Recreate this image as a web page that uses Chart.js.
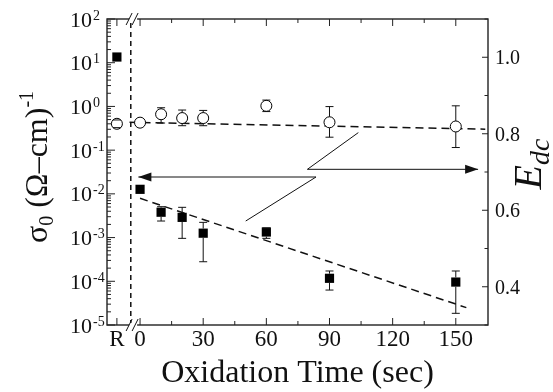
<!DOCTYPE html>
<html>
<head>
<meta charset="utf-8">
<script src="https://cdn.jsdelivr.net/npm/chart.js@4.4.0/dist/chart.umd.min.js"></script>
<style>
  html, body { margin: 0; padding: 0; background: #fff; }
</style>
</head>
<body>
<canvas id="chart" width="553" height="392"></canvas>
<script>
// ─── Data ──────────────────────────────────────────────────────────────────────
const R_POS = -11;   // the "R" (reference) sample sits left of the axis break

// conductivity sigma_0 (left, log axis) - filled squares
const sigmaTime  = [R_POS, 0, 10, 20, 30, 60, 90, 150];
const sigmaValue = [13.5, 0.0127, 0.0038, 0.0029, 0.00126, 0.00134, 1.17e-4, 9.6e-5];
const sigmaLow   = [null, null, 0.00239, 0.00096, 0.00028, 0.00096, 6.3e-5, 1.85e-5];
const sigmaHigh  = [null, null, 0.00508, 0.00492, 0.00223, 0.00166, 1.72e-4, 1.72e-4];

// E_dc (right axis) - open circles
const edcTime  = [R_POS, 0, 10, 20, 30, 60, 90, 150];
const edcValue = [0.826, 0.829, 0.851, 0.841, 0.841, 0.873, 0.830, 0.819];
const edcLow   = [0.816, null, 0.828, 0.821, 0.821, 0.858, 0.791, 0.764];
const edcHigh  = [0.836, null, 0.868, 0.862, 0.861, 0.888, 0.871, 0.873];

// dashed fits
const sigmaFitTime  = [0, 155];
const sigmaFitValue = [0.0079, 2.5e-5];
const edcFitTime    = [-5, 164];
const edcFitValue   = [0.830, 0.812];

// axis break
const breakTime = -4.4;

// arrows (polyline, tip is the last point)
const leftArrowTime   = [50.2, 83.6, -0.8];
const leftArrowSigma  = [0.00239, 0.0243, 0.0243];
const rightArrowTime  = [103.7, 79.5, 160.6];
const rightArrowEdc   = [0.803, 0.707, 0.707];

// ticks
const xTickValues   = [R_POS, 0, 30, 60, 90, 120, 150];
const xTickLabels   = ["R", "0", "30", "60", "90", "120", "150"];
const xMinorTicks   = [15, 45, 75, 105, 135];
const sigmaDecades  = [-5, -4, -3, -2, -1, 0, 1, 2];
const edcTickValues = [0.4, 0.6, 0.8, 1.0];
const edcTickLabels = ["0.4", "0.6", "0.8", "1.0"];
const edcMinorTicks = [0.3, 0.5, 0.7, 0.9, 1.1];

// ─── Helpers ───────────────────────────────────────────────────────────────────
const SERIF = '"Liberation Serif", "Times New Roman", serif';
const INK = "#111";
const pts = (xs, ys) => xs.map((x, i) => ({ x, y: ys[i] }));

function line(ctx, x1, y1, x2, y2) {
  ctx.beginPath(); ctx.moveTo(x1, y1); ctx.lineTo(x2, y2); ctx.stroke();
}

function errorBars(ctx, xs, ys, lows, highs, scaleX, scaleY, r) {
  ctx.save();
  ctx.strokeStyle = INK; ctx.lineWidth = 1;
  xs.forEach((t, i) => {
    if (lows[i] == null) return;
    const px = scaleX.getPixelForValue(t);
    const py = scaleY.getPixelForValue(ys[i]);
    const hi = scaleY.getPixelForValue(highs[i]);
    const lo = scaleY.getPixelForValue(lows[i]);
    if (hi < py - r) line(ctx, px, hi, px, py - r);
    if (lo > py + r) line(ctx, px, py + r, px, lo);
    line(ctx, px - 4, hi, px + 4, hi);
    line(ctx, px - 4, lo, px + 4, lo);
  });
  ctx.restore();
}

function arrowHead(ctx, x1, y1, x2, y2) {
  const a = Math.atan2(y2 - y1, x2 - x1), L = 13, W = 4.5;
  ctx.save();
  ctx.translate(x2, y2); ctx.rotate(a);
  ctx.fillStyle = INK;
  ctx.beginPath(); ctx.moveTo(0, 0); ctx.lineTo(-L, -W); ctx.lineTo(-L, W); ctx.closePath(); ctx.fill();
  ctx.restore();
}

function drawRich(ctx, parts, cx, cy) {
  ctx.save();
  ctx.translate(cx, cy); ctx.rotate(-Math.PI / 2);
  ctx.textAlign = "left"; ctx.textBaseline = "alphabetic"; ctx.fillStyle = INK;
  let total = 0;
  parts.forEach(p => { ctx.font = (p.it ? "italic " : "") + p.f + "px " + SERIF; p.w = ctx.measureText(p.t).width; total += p.w; });
  let xx = -total / 2;
  parts.forEach(p => { ctx.font = (p.it ? "italic " : "") + p.f + "px " + SERIF; ctx.fillText(p.t, xx, p.dy); xx += p.w; });
  ctx.restore();
}

// ─── Decorations plugin: frame, inward ticks, labels, titles ─────────────────────
const decor = {
  id: "decor",
  afterDatasetsDraw(chart) {
    const { ctx, scales: { x, y, y1 } } = chart;
    errorBars(ctx, sigmaTime, sigmaValue, sigmaLow, sigmaHigh, x, y, 4.6);
    errorBars(ctx, edcTime, edcValue, edcLow, edcHigh, x, y1, 5.5);

    // arrow heads
    const la = leftArrowTime.length - 1, ra = rightArrowTime.length - 1;
    arrowHead(ctx, x.getPixelForValue(leftArrowTime[la - 1]), y.getPixelForValue(leftArrowSigma[la - 1]),
                   x.getPixelForValue(leftArrowTime[la]), y.getPixelForValue(leftArrowSigma[la]));
    arrowHead(ctx, x.getPixelForValue(rightArrowTime[ra - 1]), y1.getPixelForValue(rightArrowEdc[ra - 1]),
                   x.getPixelForValue(rightArrowTime[ra]), y1.getPixelForValue(rightArrowEdc[ra]));
  },
  afterDraw(chart) {
    const { ctx, chartArea: a, scales: { x, y, y1 } } = chart;
    ctx.save();
    ctx.strokeStyle = "#222"; ctx.lineWidth = 1.4;
    ctx.strokeRect(a.left, a.top, a.right - a.left, a.bottom - a.top);

    // x ticks top & bottom
    ctx.lineWidth = 1;
    xTickValues.forEach(t => {
      const px = x.getPixelForValue(t);
      line(ctx, px, a.bottom, px, a.bottom - 7);
      line(ctx, px, a.top, px, a.top + 7);
    });
    xMinorTicks.forEach(t => {
      const px = x.getPixelForValue(t);
      line(ctx, px, a.bottom, px, a.bottom - 4);
      line(ctx, px, a.top, px, a.top + 4);
    });

    // log ticks, left
    sigmaDecades.forEach(d => {
      const py = y.getPixelForValue(Math.pow(10, d));
      line(ctx, a.left, py, a.left + 8, py);
      if (d < 2) for (let m = 2; m < 10; m++) {
        const pm = y.getPixelForValue(m * Math.pow(10, d));
        line(ctx, a.left, pm, a.left + 4, pm);
      }
    });

    // E_dc ticks, right
    edcTickValues.forEach(v => { const py = y1.getPixelForValue(v); line(ctx, a.right, py, a.right - 6, py); });
    edcMinorTicks.forEach(v => { const py = y1.getPixelForValue(v); line(ctx, a.right, py, a.right - 3.5, py); });

    // axis break marks "//"
    const bx = x.getPixelForValue(-3.3);
    [a.top, a.bottom].forEach(yy => {
      ctx.fillStyle = "#fff";
      ctx.fillRect(bx - 4, yy - 2, 8, 4);
      ctx.strokeStyle = INK; ctx.lineWidth = 1;
      line(ctx, bx - 7, yy + 6, bx - 1, yy - 6);
      line(ctx, bx - 1, yy + 6, bx + 5, yy - 6);
    });

    // tick labels
    ctx.fillStyle = INK;
    ctx.textBaseline = "alphabetic";
    sigmaDecades.forEach(d => {
      const py = y.getPixelForValue(Math.pow(10, d));
      ctx.font = "22px " + SERIF; ctx.textAlign = "right";
      ctx.fillText("10", 92, py + 7.5);
      ctx.font = "14px " + SERIF; ctx.textAlign = "left";
      ctx.fillText(String(d), 93, py + 0.5);
    });
    ctx.font = "23px " + SERIF; ctx.textAlign = "center";
    xTickValues.forEach((t, i) => ctx.fillText(xTickLabels[i], x.getPixelForValue(t), a.bottom + 20.5));
    ctx.font = "20px " + SERIF; ctx.textAlign = "left";
    edcTickValues.forEach((v, i) => ctx.fillText(edcTickLabels[i], 495, y1.getPixelForValue(v) + 7));

    // x title
    ctx.font = "32px " + SERIF; ctx.textAlign = "center";
    ctx.fillText("Oxidation Time (sec)", (a.left + a.right) / 2, 381.5);

    // left title: sigma_0 (Ω–cm)^-1
    drawRich(ctx, [
      { t: "\u03c3", f: 32, dy: 0 },
      { t: "0", f: 20, dy: 6 },
      { t: " (\u03a9\u2013cm)", f: 32, dy: 0 },
      { t: "-1", f: 20, dy: -14 }
    ], 47, 167);

    // right title: E_dc
    drawRich(ctx, [
      { t: "E", f: 40, dy: 0, it: true },
      { t: "dc", f: 28, dy: 8, it: true }
    ], 541, 164);
    ctx.restore();
  }
};

// ─── Chart ─────────────────────────────────────────────────────────────────────
const dashed = (data, axis, dash, order) => ({
  data, yAxisID: axis, showLine: true, pointRadius: 0, borderColor: INK,
  borderWidth: 1.5, borderDash: dash, fill: false, order
});

new Chart(document.getElementById("chart"), {
  type: "scatter",
  data: {
    datasets: [
      { data: pts(sigmaTime, sigmaValue), yAxisID: "y", pointStyle: "rect", pointRadius: 6.5,
        backgroundColor: "#000", borderColor: "#000", borderWidth: 0, order: 0 },
      { data: pts(edcTime, edcValue), yAxisID: "y1", pointStyle: "circle", pointRadius: 5.5,
        backgroundColor: "#fff", borderColor: "#000", borderWidth: 1, order: 0 },
      dashed(pts(sigmaFitTime, sigmaFitValue), "y", [8, 5], 2),
      dashed(pts(edcFitTime, edcFitValue), "y1", [8, 5], 2),
      dashed([{ x: breakTime, y: 1e-5 }, { x: breakTime, y: 100 }], "y", [5, 4], 2),
      { data: pts(leftArrowTime, leftArrowSigma), yAxisID: "y", showLine: true, pointRadius: 0,
        borderColor: INK, borderWidth: 1, order: 1 },
      { data: pts(rightArrowTime, rightArrowEdc), yAxisID: "y1", showLine: true, pointRadius: 0,
        borderColor: INK, borderWidth: 1, order: 1 }
    ]
  },
  options: {
    responsive: false,
    animation: false,
    devicePixelRatio: 1,
    layout: { padding: { left: 107, right: 65, top: 19, bottom: 67 } },
    plugins: { legend: { display: false }, tooltip: { enabled: false } },
    scales: {
      x:  { type: "linear", min: -15.7, max: 165.3, display: false },
      y:  { type: "logarithmic", min: 1e-5, max: 100, display: false, position: "left" },
      y1: { type: "linear", min: 0.3, max: 1.1, display: false, position: "right" }
    }
  },
  plugins: [decor]
});
</script>
</body>
</html>
